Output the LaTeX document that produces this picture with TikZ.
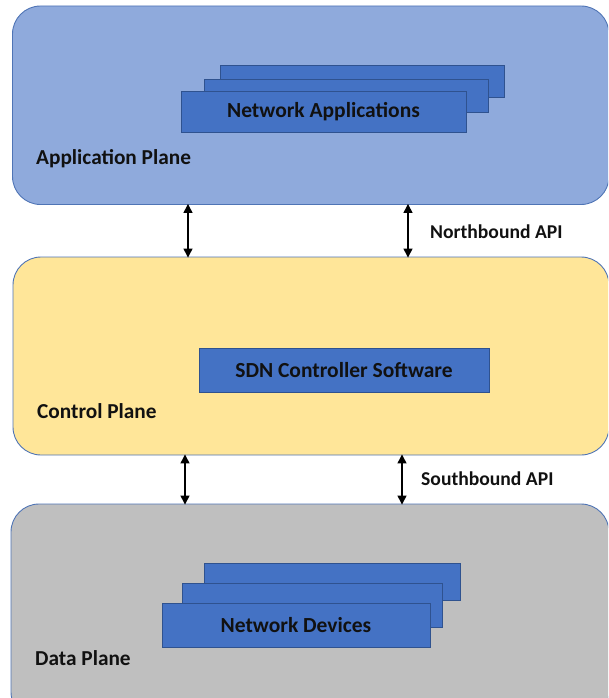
\documentclass[tikz,border=0pt]{standalone}
\usepackage{fontspec}
\setmainfont{Carlito}
\usetikzlibrary{arrows.meta}
\definecolor{appfill}{HTML}{8FAADC}
\definecolor{ctrlfill}{HTML}{FFE699}
\definecolor{datafill}{HTML}{BFBFBF}
\definecolor{planeline}{HTML}{4F74B5}
\definecolor{boxfill}{HTML}{4472C4}
\definecolor{boxline}{HTML}{2F528F}
\definecolor{ink}{HTML}{111111}
\tikzset{
  plane/.style={draw=planeline, line width=0.9pt, rounded corners=28pt,
    inner sep=0pt},
  blockbox/.style={draw=boxline, fill=boxfill, line width=0.8pt, inner sep=0pt,
    font=\fontsize{21.5}{24}\selectfont\bfseries, text=ink},
  planelabel/.style={anchor=west, inner sep=0pt,
    font=\fontsize{21.3}{24}\selectfont\bfseries, text=ink},
  apilabel/.style={anchor=west, inner sep=0pt,
    font=\fontsize{19.6}{22}\selectfont\bfseries, text=ink},
  api/.style={line width=1.3pt, draw=black,
    {Triangle[width=9pt,length=9pt]}-{Triangle[width=9pt,length=9pt]}},
}
\begin{document}
\begin{tikzpicture}[x=1pt, y=-1pt]
\useasboundingbox (0,0) rectangle (608,698);
\clip (0,0) rectangle (608,698);

% the three planes
\node[plane, fill=appfill, minimum width=596.5pt, minimum height=198.5pt]
  (app) at (310.75,105.25) {};
\node[plane, fill=ctrlfill, minimum width=596pt, minimum height=198pt]
  (ctrl) at (311,356) {};
\node[plane, fill=datafill, minimum width=598pt, minimum height=216pt]
  (data) at (310,612) {};

% application plane: stacked application boxes
\node[blockbox, minimum width=284pt, minimum height=32.7pt] (appc) at (362,81.4) {};
\node[blockbox, minimum width=284pt, minimum height=33pt] (appb) at (346,95.5) {};
\node[blockbox, minimum width=285pt, minimum height=41.7pt] (appa) at (323.5,111.8)
  {Network Applications};
\node[planelabel] (applbl) at (36,159) {Application Plane};

% control plane
\node[blockbox, minimum width=290pt, minimum height=44pt] (sdn) at (344,370)
  {SDN Controller Software};
\node[planelabel] (ctrllbl) at (37,411) {Control Plane};

% data plane: stacked device boxes
\node[blockbox, minimum width=256pt, minimum height=37pt] (devc) at (332,581.5) {};
\node[blockbox, minimum width=260pt, minimum height=44pt] (devb) at (312,605) {};
\node[blockbox, minimum width=268pt, minimum height=44pt] (deva) at (296,625)
  {Network Devices};
\node[planelabel] (datalbl) at (35,658) {Data Plane};

% interfaces between the planes
\coordinate (n1) at (188,0);
\coordinate (n2) at (408,0);
\coordinate (s1) at (185,0);
\coordinate (s2) at (402,0);
\draw[api] ([yshift=1pt]n1 |- app.south) -- ([yshift=-1pt]n1 |- ctrl.north);
\draw[api] ([yshift=1pt]n2 |- app.south) -- ([yshift=-1pt]n2 |- ctrl.north);
\draw[api] ([yshift=1pt]s1 |- ctrl.south) -- ([yshift=-1pt]s1 |- data.north);
\draw[api] ([yshift=1pt]s2 |- ctrl.south) -- ([yshift=-1pt]s2 |- data.north);
\node[apilabel] (nbapi) at (430,232) {Northbound API};
\node[apilabel] (sbapi) at (421,479) {Southbound API};
\end{tikzpicture}
\end{document}
